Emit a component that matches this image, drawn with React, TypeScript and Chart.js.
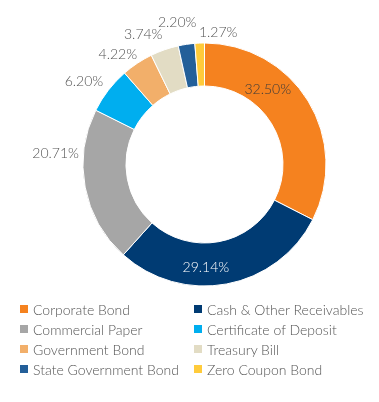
import React, { useEffect, useRef } from "react";
import { Chart, registerables } from "chart.js";

Chart.register(...registerables);

const categories = [
  "Corporate Bond",
  "Cash & Other Receivables",
  "Commercial Paper",
  "Certificate of Deposit",
  "Government Bond",
  "Treasury Bill",
  "State Government Bond",
  "Zero Coupon Bond",
];
const values = [32.5, 29.14, 20.71, 6.2, 4.22, 3.74, 2.2, 1.27];
const valueLabels = ["32.50%", "29.14%", "20.71%", "6.20%", "4.22%", "3.74%", "2.20%", "1.27%"];
const colors = ["#F5821F", "#003B73", "#A6A6A6", "#00AEEF", "#F2AF6A", "#E2DCC4", "#235F99", "#FFCB3B"];

// label placement relative to each arc: fraction along arc, radius factor of outer radius, alignment, colour
const labelLayout = [
  { frac: 0.342, rf: 0.81, align: "center", color: "#3a3a3a" },
  { frac: 0.593, rf: 0.85, align: "center", color: "#ffffff" },
  { frac: 0.709, rf: 1.037, align: "right", color: "#555555" },
  { frac: 0.58, rf: 1.08, align: "right", color: "#555555" },
  { frac: 0.63, rf: 1.06, align: "right", color: "#555555" },
  { frac: 0.05, rf: 1.18, align: "center", color: "#555555" },
  { frac: 0.21, rf: 1.194, align: "center", color: "#555555" },
  { frac: 2.29, rf: 1.096, align: "center", color: "#555555" },
];

const FONT = "Lato, 'Open Sans', sans-serif";

const labelPlugin = {
  id: "sliceLabels",
  afterDatasetsDraw(chart: any) {
    const ctx = chart.ctx;
    const meta = chart.getDatasetMeta(0);
    ctx.save();
    ctx.font = `300 14px ${FONT}`;
    ctx.textBaseline = "middle";
    meta.data.forEach((arc: any, i: number) => {
      const p = arc.getProps(["x", "y", "startAngle", "endAngle", "outerRadius"], true);
      const L = labelLayout[i];
      const a = p.startAngle + L.frac * (p.endAngle - p.startAngle);
      const r = p.outerRadius * L.rf;
      const x = p.x + Math.cos(a) * r;
      const y = p.y + Math.sin(a) * r;
      ctx.textAlign = L.align;
      ctx.fillStyle = L.color;
      ctx.fillText(valueLabels[i], x, y);
    });
    ctx.restore();
  },
};

function App() {
  const ref = useRef<HTMLCanvasElement | null>(null);
  useEffect(() => {
    if (!ref.current) return;
    const chart = new Chart(ref.current, {
      type: "doughnut",
      data: {
        labels: categories,
        datasets: [
          {
            data: values,
            backgroundColor: colors,
            borderColor: "#ffffff",
            borderWidth: 1,
          },
        ],
      },
      options: {
        animation: false,
        responsive: false,
        maintainAspectRatio: false,
        cutout: "64.6%",
        layout: { padding: { left: 82.5, right: 52.5, top: 42.5, bottom: 13.5 } },
        plugins: {
          legend: { display: false },
          tooltip: { enabled: false },
        },
      },
      plugins: [labelPlugin],
    } as any);
    return () => chart.destroy();
  }, []);

  return (
    <div style={{ position: "absolute", left: 0, top: 0, width: 379, height: 402, background: "#fff" }}>
      <canvas ref={ref} width={379} height={300} style={{ position: "absolute", left: 0, top: 0, width: 379, height: 300 }} />
      <div
        style={{
          position: "absolute",
          left: 20,
          top: 299,
          display: "grid",
          gridTemplateColumns: "174px 170px",
          rowGap: 0,
          fontFamily: FONT,
          fontWeight: 300,
          fontSize: 14,
          color: "#555",
        }}
      >
        {categories.map((c, i) => (
          <div key={c} style={{ display: "flex", alignItems: "center", height: 20, whiteSpace: "nowrap" }}>
            <span style={{ display: "inline-block", width: 8, height: 8, background: colors[i], marginRight: 5 }} />
            <span>{c}</span>
          </div>
        ))}
      </div>
    </div>
  );
}

export default App;
